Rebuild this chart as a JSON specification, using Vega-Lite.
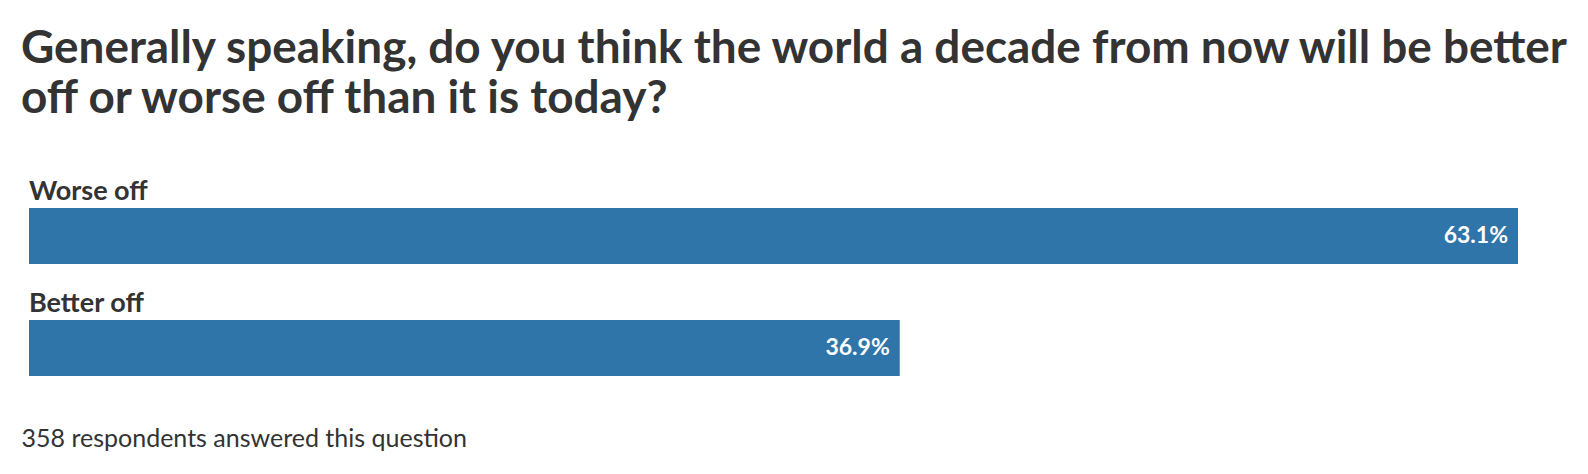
{
  "$schema": "https://vega.github.io/schema/vega-lite/v6.json",
  "width": 1489,
  "height": 224,
  "autosize": {"type": "none"},
  "padding": {"left": 29, "top": 152, "right": 70, "bottom": 98},
  "background": "white",
  "title": {
    "text": ["Generally speaking, do you think the world a decade from now will be better", "off or worse off than it is today?"],
    "anchor": "start",
    "frame": "group",
    "dx": -8,
    "offset": 29,
    "font": "Lato",
    "fontSize": 45.9,
    "fontWeight": "bold",
    "color": "#333333",
    "lineHeight": 50
  },
  "data": {
    "values": [
      {"answer": "Worse off", "pct": 63.1, "label": "63.1%"},
      {"answer": "Better off", "pct": 36.9, "label": "36.9%"}
    ]
  },
  "encoding": {
    "y": {
      "field": "answer",
      "type": "nominal",
      "sort": ["Worse off", "Better off"],
      "scale": {"paddingInner": 0, "paddingOuter": 0},
      "axis": null
    }
  },
  "layer": [
    {
      "mark": {"type": "bar", "height": 56, "yOffset": 28, "color": "#2f75a9"},
      "encoding": {
        "x": {
          "field": "pct",
          "type": "quantitative",
          "scale": {"domain": [0, 63.1], "nice": false},
          "axis": {
            "domain": false,
            "ticks": false,
            "labels": false,
            "grid": false,
            "title": "358 respondents answered this question",
            "titleFont": "Lato",
            "titleFontSize": 25,
            "titleFontWeight": "normal",
            "titleColor": "#333333",
            "titleAnchor": "start",
            "titleAlign": "left",
            "titleBaseline": "alphabetic",
            "titleX": -8,
            "titleY": 70
          }
        }
      }
    },
    {
      "mark": {"type": "text", "align": "left", "baseline": "alphabetic", "yOffset": -8, "font": "Lato", "fontSize": 27, "fontWeight": "bold", "color": "#333333"},
      "encoding": {
        "x": {"datum": 0, "type": "quantitative"},
        "text": {"field": "answer"}
      }
    },
    {
      "mark": {"type": "text", "align": "right", "baseline": "middle", "yOffset": 28, "dx": -10, "font": "Lato", "fontSize": 23, "fontWeight": "bold", "color": "white"},
      "encoding": {
        "x": {"field": "pct", "type": "quantitative"},
        "text": {"field": "label"}
      }
    }
  ],
  "config": {"view": {"stroke": null}}
}
